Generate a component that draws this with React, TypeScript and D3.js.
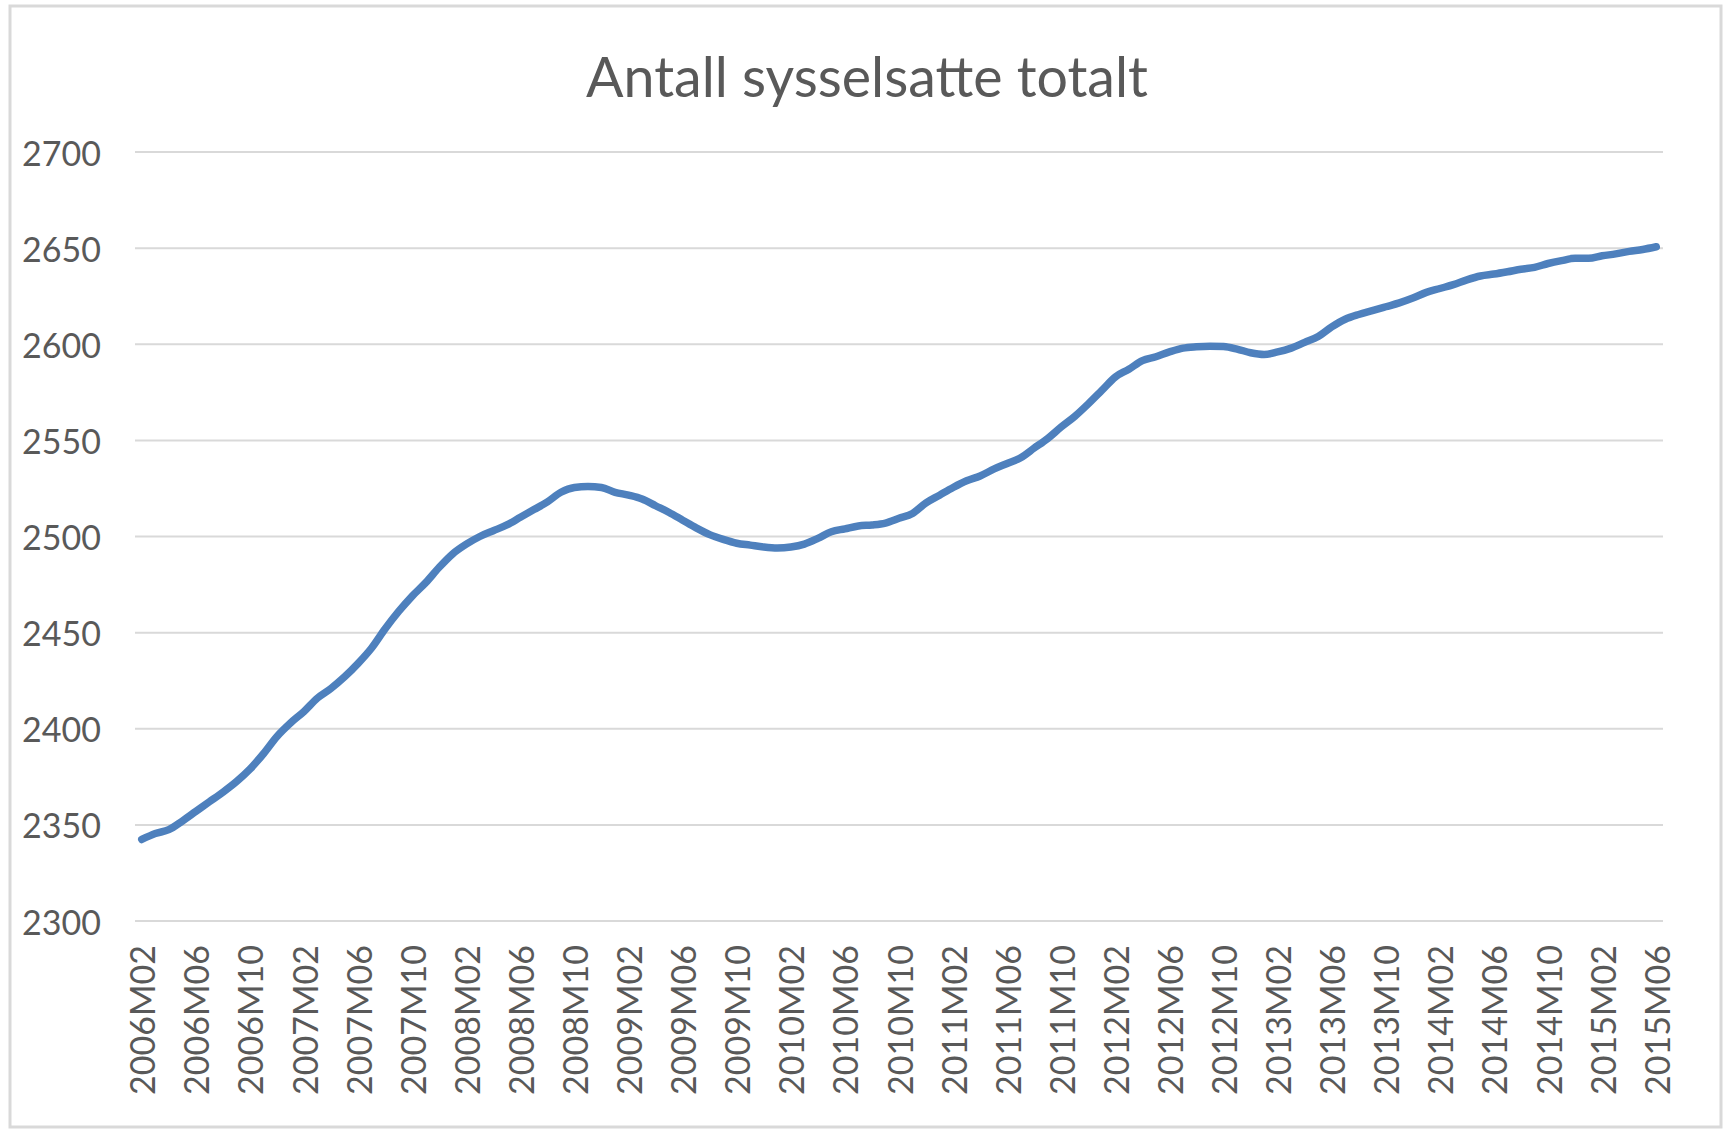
import React, { useEffect, useRef } from 'react';
import * as d3 from 'd3';

// Antall sysselsatte (1000 personer), månedlig 2006M02 - 2015M06
const startYear = 2006;
const startMonth = 2;
const values = [
  2342.4, 2345.5, 2347.5, 2352, 2357, 2362, 2367, 2372.5, 2379, 2387,
  2396, 2403, 2409, 2416, 2421, 2427, 2434, 2442, 2452, 2461,
  2469, 2476, 2484, 2491, 2496, 2500, 2503, 2506, 2510, 2514,
  2518, 2523, 2525.5, 2526, 2525.5, 2523, 2521.5, 2519.5, 2516, 2512.5,
  2508.5, 2504.5, 2501, 2498.5, 2496.5, 2495.5, 2494.5, 2494, 2494.5, 2496,
  2499, 2502.5, 2504, 2505.5, 2506, 2507, 2509.5, 2512, 2517.5, 2521.5,
  2525.5, 2529, 2531.5, 2535, 2538, 2541, 2546, 2551, 2557, 2562.5,
  2569, 2576, 2583, 2587, 2591.5, 2593.5, 2596, 2598, 2598.7, 2599,
  2598.8, 2597.5, 2595.6, 2594.7, 2596, 2598, 2601, 2604, 2609, 2613,
  2615.5, 2617.5, 2619.5, 2621.5, 2624, 2627, 2629, 2631, 2633.5, 2635.5,
  2636.5, 2637.7, 2639, 2640, 2642, 2643.5, 2644.7, 2644.7, 2646, 2647,
  2648.3, 2649.3, 2650.7,
];

const months = values.map((_, i) => {
  const m = startMonth - 1 + i;
  const y = startYear + Math.floor(m / 12);
  const mm = (m % 12) + 1;
  return `${y}M${mm < 10 ? '0' + mm : mm}`;
});

const tickLabels = [
  '2006M02', '2006M06', '2006M10', '2007M02', '2007M06', '2007M10',
  '2008M02', '2008M06', '2008M10', '2009M02', '2009M06', '2009M10',
  '2010M02', '2010M06', '2010M10', '2011M02', '2011M06', '2011M10',
  '2012M02', '2012M06', '2012M10', '2013M02', '2013M06', '2013M10',
  '2014M02', '2014M06', '2014M10', '2015M02', '2015M06',
];

const yTicks = [2300, 2350, 2400, 2450, 2500, 2550, 2600, 2650, 2700];

const title = 'Antall sysselsatte totalt';

const App = () => {
  const ref = useRef<SVGSVGElement>(null);

  useEffect(() => {
    const width = 1727;
    const height = 1131;
    const plot = { left: 135, right: 1663, top: 152, bottom: 921 };
    const font = 'Lato, "Open Sans", sans-serif';
    const textColor = '#595959';

    const svg = d3.select(ref.current);
    svg.selectAll('*').remove();
    svg.attr('width', width).attr('height', height);

    svg.append('rect')
      .attr('width', width)
      .attr('height', height)
      .attr('fill', '#ffffff');

    // chart border
    svg.append('rect')
      .attr('x', 10)
      .attr('y', 6)
      .attr('width', 1711)
      .attr('height', 1121)
      .attr('fill', 'none')
      .attr('stroke', '#d9d9d9')
      .attr('stroke-width', 3);

    const x = d3.scalePoint<string>()
      .domain(months)
      .range([plot.left, plot.right])
      .padding(0.5);

    const y = d3.scaleLinear()
      .domain([2300, 2700])
      .range([plot.bottom, plot.top]);

    // gridlines
    svg.append('g')
      .selectAll('line')
      .data(yTicks)
      .enter()
      .append('line')
      .attr('x1', plot.left)
      .attr('x2', plot.right)
      .attr('y1', d => y(d))
      .attr('y2', d => y(d))
      .attr('stroke', '#d9d9d9')
      .attr('stroke-width', 2);

    // y labels
    svg.append('g')
      .selectAll('text')
      .data(yTicks)
      .enter()
      .append('text')
      .attr('x', 101)
      .attr('y', d => y(d))
      .attr('text-anchor', 'end')
      .attr('dominant-baseline', 'central')
      .attr('font-family', font)
      .attr('font-size', 34)
      .attr('fill', textColor)
      .text(d => d);

    // x labels, rotated
    svg.append('g')
      .selectAll('text')
      .data(tickLabels)
      .enter()
      .append('text')
      .attr('transform', d => `translate(${x(d)},945) rotate(-90)`)
      .attr('text-anchor', 'end')
      .attr('dominant-baseline', 'central')
      .attr('font-family', font)
      .attr('font-size', 34)
      .attr('fill', textColor)
      .text(d => d);

    // line
    const line = d3.line<number>()
      .x((_, i) => x(months[i]) as number)
      .y(d => y(d))
      .curve(d3.curveMonotoneX);

    svg.append('path')
      .datum(values)
      .attr('d', line)
      .attr('fill', 'none')
      .attr('stroke', '#4e80bd')
      .attr('stroke-width', 7.5)
      .attr('stroke-linecap', 'round')
      .attr('stroke-linejoin', 'round');

    // title
    svg.append('text')
      .attr('x', 867)
      .attr('y', 97)
      .attr('text-anchor', 'middle')
      .attr('font-family', font)
      .attr('font-size', 55.5)
      .attr('fill', textColor)
      .text(title);
  }, []);

  return <svg ref={ref} style={{ position: 'absolute', left: 0, top: 0, display: 'block' }}></svg>;
};

export default App;
